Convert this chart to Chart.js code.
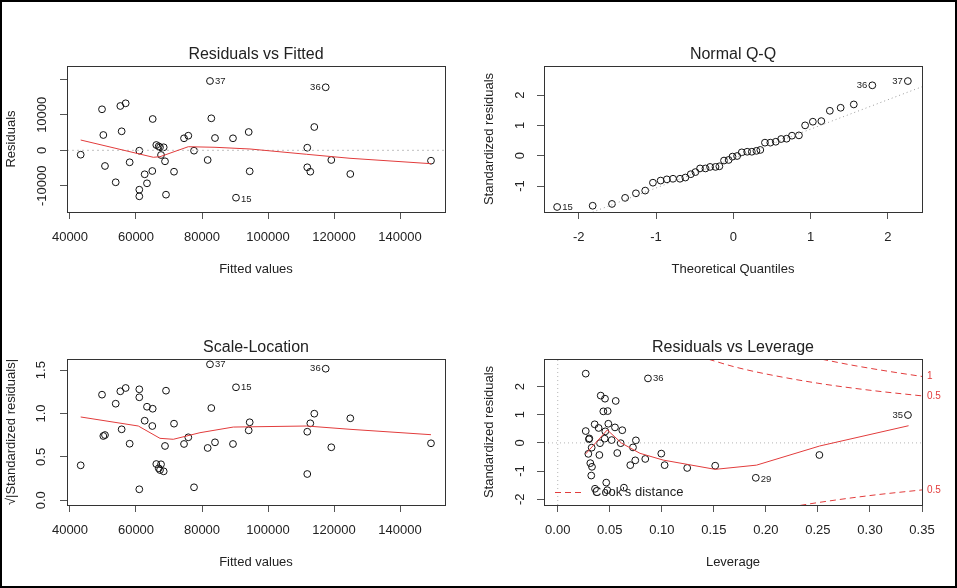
<!DOCTYPE html>
<html>
<head>
<meta charset="utf-8">
<script src="https://cdn.jsdelivr.net/npm/chart.js@4.4.0/dist/chart.umd.min.js"></script>
<style>
  html, body { margin: 0; padding: 0; background: #fff; }
  #frame { position: absolute; left: 0; top: 0; width: 953px; height: 584px; border: 2px solid #000; }
  canvas { position: absolute; }
</style>
</head>
<body>
<div id="frame"></div>
<canvas id="c1" width="478" height="294" style="left:0;top:0"></canvas>
<canvas id="c2" width="479" height="294" style="left:478px;top:0"></canvas>
<canvas id="c3" width="478" height="294" style="left:0;top:294px"></canvas>
<canvas id="c4" width="479" height="294" style="left:478px;top:294px"></canvas>
<script>
// fitted values and residuals (same order in both left panels)
var fitted = [43240, 49700, 50100, 50600, 53850, 55250, 56870, 55650, 58080, 61000, 61000, 61000, 62630, 63330, 64940,
  65060, 66150, 66880, 67270, 68390, 67580, 68790, 69090, 71520, 74550, 75850, 77580, 81720, 82420, 82820,
  83940, 89390, 90300, 94150, 94450, 111900, 111900, 112820, 114030, 117480, 119180, 124940, 149390];
var resid = [-1240, 11550, 4310, -4420, -9010, 12480, 13240, 5350, -3380, -110, -11100, -12960, -6760, -9300, -5830,
  8820, 1490, 1130, 850, 850, -1320, -3100, -12500, -6030, 3380, 4110, -110, -2730, 19520, 9010,
  3460, 3380, -13350, 5150, -5920, 730, -4790, -6030, 6560, 17750, -2730, -6680, -2930];
var sqrtStd = [0.403, 1.217, 0.741, 0.752, 1.113, 1.256, 1.294, 0.818, 0.652, 0.127, 1.187, 1.279, 0.917, 1.078, 0.856,
  1.055, 0.418, 0.369, 0.349, 0.334, 0.415, 0.626, 1.263, 0.883, 0.649, 0.726, 0.150, 0.603, 1.567, 1.063,
  0.668, 0.649, 1.302, 0.806, 0.899, 0.303, 0.790, 0.887, 0.998, 1.516, 0.611, 0.945, 0.657];

// smoother lines
var residSmoothX = [43240, 65250, 67270, 75850, 83940, 94550, 111720, 124850, 149390];
var residSmoothY = [2900, -1970, -1800, 1010, 850, 370, -1130, -2250, -3770];
var scaleSmoothX = [43240, 60700, 67270, 71300, 79390, 89480, 111720, 124850, 149390];
var scaleSmoothY = [0.960, 0.856, 0.714, 0.703, 0.779, 0.844, 0.856, 0.818, 0.756];

// normal Q-Q
var theoQ = [-2.28, -1.82, -1.57, -1.40, -1.26, -1.14, -1.04, -0.94, -0.86, -0.78, -0.69, -0.62, -0.55, -0.49, -0.43,
  -0.36, -0.30, -0.23, -0.18, -0.12, -0.06, -0.01, 0.05, 0.11, 0.18, 0.24, 0.30, 0.35, 0.41, 0.48,
  0.55, 0.62, 0.69, 0.76, 0.85, 0.93, 1.03, 1.14, 1.25, 1.39, 1.56, 1.80, 2.26];
var stdSorted = [-1.69, -1.65, -1.59, -1.39, -1.24, -1.15, -0.89, -0.82, -0.78, -0.76, -0.76, -0.72, -0.61, -0.54, -0.42,
  -0.42, -0.37, -0.37, -0.35, -0.16, -0.14, -0.03, -0.01, 0.11, 0.13, 0.13, 0.16, 0.19, 0.43, 0.43,
  0.46, 0.55, 0.56, 0.66, 0.67, 1.00, 1.12, 1.14, 1.48, 1.58, 1.69, 2.32, 2.46];
var qqLineX = [-2.45, 2.45];
var qqLineY = [-2.47, 2.28];

// residuals vs leverage
var leverage = [0.0269, 0.0867, 0.3365, 0.0413, 0.0454, 0.0557, 0.0438, 0.0480, 0.0355, 0.0393, 0.0269, 0.0486, 0.0550, 0.0620, 0.0457,
  0.0303, 0.0300, 0.0451, 0.0518, 0.0406, 0.0605, 0.0751, 0.0326, 0.0723, 0.0294, 0.0400, 0.0572, 0.0995, 0.0313, 0.0329,
  0.0745, 0.0697, 0.0841, 0.1027, 0.1244, 0.1513, 0.2514, 0.0322, 0.1903, 0.0466, 0.0358, 0.0476, 0.0636];
var stdLev = [2.46, 2.29, 0.99, 1.68, 1.57, 1.49, 1.12, 1.13, 0.66, 0.53, 0.42, 0.68, 0.55, 0.45, 0.41,
  0.16, 0.13, 0.15, 0.10, -0.01, -0.01, 0.09, -0.17, -0.16, -0.39, -0.43, -0.36, -0.38, -0.72, -0.85,
  -0.62, -0.79, -0.57, -0.79, -0.89, -0.81, -0.43, -1.16, -1.24, -1.41, -1.63, -1.68, -1.59];
var levSmoothX = [0.0269, 0.0476, 0.0614, 0.079, 0.1013, 0.1513, 0.191, 0.2517, 0.3371];
var levSmoothY = [-0.39, 0.46, -0.01, -0.37, -0.61, -0.94, -0.79, -0.11, 0.61];
var cookHalfX = [0.145, 0.17, 0.2, 0.25, 0.3, 0.35];
var cookHalfUp = [2.97, 2.70, 2.45, 2.12, 1.87, 1.67];
var cookOneX = [0.254, 0.28, 0.3, 0.325, 0.35];
var cookOneUp = [2.97, 2.78, 2.65, 2.50, 2.36];
var cookLowX = [0.233, 0.25, 0.3, 0.35];
var cookHalfLow = [-2.22, -2.12, -1.87, -1.67];

// axis ranges and ticks
var fitLim = [39091, 153636];
var fitTicks = [40000, 60000, 80000, 100000, 120000, 140000];
var residLim = [-17380, 23746];
var residTicks = [-10000, 0, 10000, 20000];
var qqXLim = [-2.45, 2.443];
var qqXTicks = [-2, -1, 0, 1, 2];
var qqYLim = [-1.856, 2.957];
var qqYTicks = [-1, 0, 1, 2];
var scaleYLim = [-0.054, 1.628];
var scaleYTicks = [0, 0.5, 1, 1.5];
var levXLim = [-0.0132, 0.35];
var levXTicks = [0, 0.05, 0.1, 0.15, 0.2, 0.25, 0.3, 0.35];
var levYLim = [-2.206, 2.98];
var levYTicks = [-2, -1, 0, 1, 2];

var FONT = '"Liberation Sans", Arial, Helvetica, sans-serif';
var RED = 'rgb(226, 60, 60)';
Chart.defaults.font.family = FONT;
Chart.defaults.color = '#222';

function xy(xs, ys) {
  return xs.map(function (v, i) { return {x: v, y: ys[i]}; });
}

function pointsSet(data) {
  return {data: data, showLine: false, pointRadius: 3.4, pointBorderWidth: 1, pointBorderColor: '#111',
    pointBackgroundColor: 'rgba(0,0,0,0)', pointStyle: 'circle'};
}
function lineSet(data, color, dash, smooth) {
  return {data: data, showLine: true, pointRadius: 0, borderWidth: 1, borderColor: color,
    borderDash: dash || [], cubicInterpolationMode: smooth ? 'monotone' : 'default', tension: 0};
}

var boxPlugin = {
  id: 'plotBox',
  afterDraw: function (chart) {
    var a = chart.chartArea, ctx = chart.ctx;
    ctx.save();
    ctx.strokeStyle = '#333';
    ctx.lineWidth = 1;
    ctx.strokeRect(a.left + 0.5, a.top + 0.5, a.right - a.left, a.bottom - a.top);
    ctx.restore();
  }
};

// id labels next to the outlying points
var idPlugin = {
  id: 'pointIds',
  afterDatasetsDraw: function (chart, args, opts) {
    if (!opts.items) return;
    var ctx = chart.ctx, meta = chart.getDatasetMeta(opts.dataset);
    ctx.save();
    ctx.font = '9.5px ' + FONT;
    ctx.fillStyle = '#222';
    ctx.textBaseline = 'middle';
    opts.items.forEach(function (it) {
      var el = meta.data[it[0]];
      var left = it[2] === 'l';
      ctx.textAlign = left ? 'right' : 'left';
      ctx.fillText(it[1], el.x + (left ? -5 : 5), el.y + (it[3] || 0));
    });
    ctx.restore();
  }
};

var cookPlugin = {
  id: 'cookNotes',
  afterDraw: function (chart) {
    var ctx = chart.ctx, a = chart.chartArea, y = chart.scales.y;
    ctx.save();
    ctx.font = '10px ' + FONT;
    ctx.fillStyle = RED;
    ctx.textAlign = 'left';
    ctx.textBaseline = 'middle';
    [[cookOneUp, '1'], [cookHalfUp, '0.5'], [cookHalfLow, '0.5']].forEach(function (c) {
      ctx.fillText(c[1], a.right + 5, y.getPixelForValue(c[0][c[0].length - 1]));
    });
    var ly = Math.round(a.bottom - 13) + 0.5;
    ctx.strokeStyle = RED;
    ctx.lineWidth = 1;
    ctx.setLineDash([6, 4]);
    ctx.beginPath();
    ctx.moveTo(a.left + 11, ly);
    ctx.lineTo(a.left + 37, ly);
    ctx.stroke();
    ctx.setLineDash([]);
    ctx.font = '13px ' + FONT;
    ctx.fillStyle = '#222';
    ctx.fillText("Cook's distance", a.left + 48, ly);
    ctx.restore();
  }
};

function makePanel(id, g, opt) {
  var cv = document.getElementById(id);
  var W = cv.width, H = cv.height;
  var axisBottom = H - g.bottom;
  return new Chart(cv, {
    type: 'scatter',
    data: {datasets: opt.datasets},
    plugins: [boxPlugin, idPlugin].concat(opt.plugins || []),
    options: {
      responsive: false,
      animation: false,
      devicePixelRatio: 1,
      events: [],
      layout: {padding: {left: 0, top: 0, bottom: 0, right: W - g.right}},
      plugins: {
        legend: {display: false},
        tooltip: {enabled: false},
        title: {display: true, text: opt.title, fullSize: false, color: '#222',
          font: {size: 16, weight: 'normal'},
          padding: {top: g.top - 11.5 - 9.6, bottom: 11.5 - 9.6}},
        pointIds: opt.ids || {}
      },
      scales: {
        x: {
          type: 'linear', position: 'bottom', min: opt.xLim[0], max: opt.xLim[1],
          afterBuildTicks: function (s) { s.ticks = opt.xTicks.map(function (v) { return {value: v}; }); },
          afterFit: function (s) { s.height = axisBottom; },
          grid: {drawOnChartArea: false, tickLength: 7, color: '#555'},
          border: {display: false},
          ticks: {padding: 11, font: {size: 13}, color: '#222', maxRotation: 0, autoSkip: false, callback: opt.xFmt},
          title: {display: true, text: opt.xTitle, color: '#222', font: {size: 13},
            padding: {top: 0, bottom: axisBottom - 57.5 - 7.8}}
        },
        y: {
          type: 'linear', position: 'left', min: opt.yLim[0], max: opt.yLim[1],
          afterBuildTicks: function (s) { s.ticks = opt.yTicks.map(function (v) { return {value: v}; }); },
          afterFit: function (s) { s.width = g.left; },
          grid: {drawOnChartArea: false, tickLength: 7, color: '#555'},
          border: {display: false},
          ticks: {padding: opt.yPad, font: {size: 13}, color: '#222', minRotation: 90, maxRotation: 90,
            crossAlign: 'center', autoSkip: false, callback: opt.yFmt},
          title: {display: true, text: opt.yTitle, color: '#222', font: {size: 13}, padding: {top: 3.5, bottom: 0}}
        }
      }
    }
  });
}

var plain = function (v) { return String(v); };

makePanel('c1', {left: 67, right: 445, top: 66, bottom: 212}, {
  title: 'Residuals vs Fitted', xTitle: 'Fitted values', yTitle: 'Residuals',
  xLim: fitLim, xTicks: fitTicks, xFmt: plain,
  yLim: residLim, yTicks: residTicks, yPad: -2.4,
  yFmt: function (v) { return v === 20000 ? '' : String(v); },
  datasets: [
    lineSet(xy(residSmoothX, residSmoothY), RED),
    lineSet(xy(fitLim, [0, 0]), '#c0c0c0', [2, 3]),
    pointsSet(xy(fitted, resid))
  ],
  ids: {dataset: 2, items: [[28, '37', 'r'], [39, '36', 'l'], [32, '15', 'r', 2]]}
});

makePanel('c2', {left: 66, right: 444, top: 66, bottom: 212}, {
  title: 'Normal Q-Q', xTitle: 'Theoretical Quantiles', yTitle: 'Standardized residuals',
  xLim: qqXLim, xTicks: qqXTicks, xFmt: plain,
  yLim: qqYLim, yTicks: qqYTicks, yPad: 10.7, yFmt: plain,
  datasets: [
    lineSet(xy(qqLineX, qqLineY), '#9a9a9a', [1, 3]),
    pointsSet(xy(theoQ, stdSorted))
  ],
  ids: {dataset: 1, items: [[0, '15', 'r'], [41, '36', 'l'], [42, '37', 'l']]}
});

makePanel('c3', {left: 67, right: 445, top: 65, bottom: 211}, {
  title: 'Scale-Location', xTitle: 'Fitted values', yTitle: '\u221A|Standardized residuals|',
  xLim: fitLim, xTicks: fitTicks, xFmt: plain,
  yLim: scaleYLim, yTicks: scaleYTicks, yPad: 9.5,
  yFmt: function (v) { return v.toFixed(1); },
  datasets: [
    lineSet(xy(scaleSmoothX, scaleSmoothY), RED),
    pointsSet(xy(fitted, sqrtStd))
  ],
  ids: {dataset: 1, items: [[28, '37', 'r'], [39, '36', 'l'], [32, '15', 'r']]}
});

makePanel('c4', {left: 66, right: 444, top: 65, bottom: 211}, {
  title: 'Residuals vs Leverage', xTitle: 'Leverage', yTitle: 'Standardized residuals',
  xLim: levXLim, xTicks: levXTicks, xFmt: function (v) { return v.toFixed(2); },
  yLim: levYLim, yTicks: levYTicks, yPad: 10.7, yFmt: plain,
  datasets: [
    lineSet(xy(levSmoothX, levSmoothY), RED),
    lineSet(xy(cookHalfX, cookHalfUp), RED, [6, 4], true),
    lineSet(xy(cookOneX, cookOneUp), RED, [6, 4], true),
    lineSet(xy(cookLowX, cookHalfLow), RED, [6, 4], true),
    lineSet(xy(levXLim, [0, 0]), '#b5b5b5', [1, 3]),
    lineSet(xy([0, 0], levYLim), '#b5b5b5', [1, 3]),
    pointsSet(xy(leverage, stdLev))
  ],
  plugins: [cookPlugin],
  ids: {dataset: 6, items: [[1, '36', 'r'], [2, '35', 'l'], [38, '29', 'r', 2]]}
});
</script>
</body>
</html>
